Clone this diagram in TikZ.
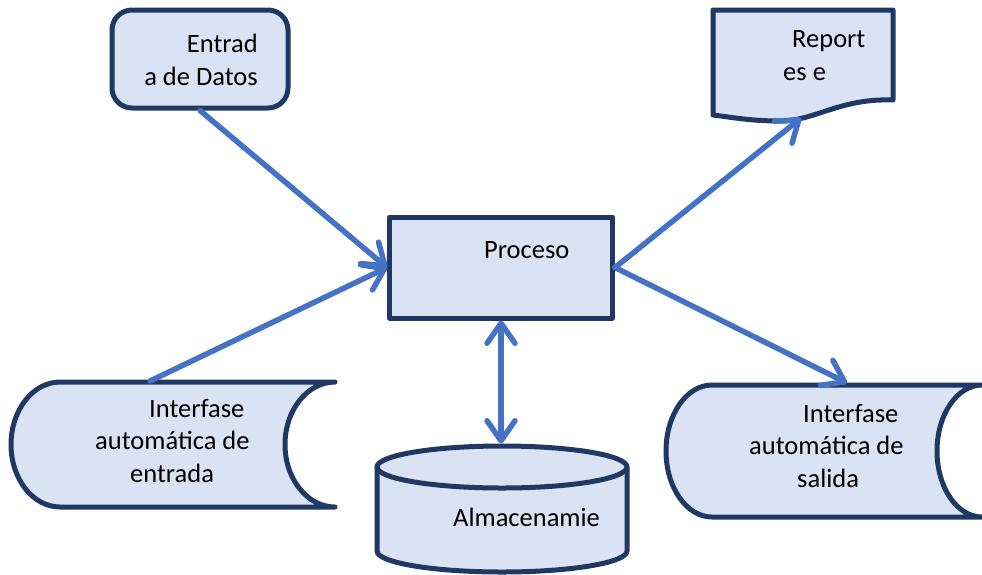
\documentclass[tikz,border=0pt]{standalone}
\usepackage{fontspec}
\setmainfont{Carlito}
\usetikzlibrary{arrows.meta}
\definecolor{boxfill}{HTML}{DAE3F3}
\definecolor{boxline}{HTML}{203864}
\definecolor{flowblue}{HTML}{4472C4}
\begin{document}
\begin{tikzpicture}[x=1pt,y=-1pt,
  shapeline/.style={draw=boxline, fill=boxfill, line width=5pt, line join=round},
  txt/.style={font=\fontsize{26.5}{32.5}\selectfont, inner sep=0pt, anchor=base west, align=left, text=black},
  >={Straight Barb[length=20pt,width=28pt,line cap=round,line join=round]},
  flowarrow/.style={draw=flowblue, line width=5.5pt, line cap=round, ->},
]
\useasboundingbox (0,0) rectangle (982,574);

% --- shapes ---
% data entry (rounded box)
\node[shapeline, rounded corners=20pt, minimum width=176pt, minimum height=98pt, inner sep=0pt] (entrada) at (200,59) {};

% process
\node[shapeline, minimum width=223pt, minimum height=101pt, inner sep=0pt] (proceso) at (501,267.5) {};

% report (document shape with wavy bottom)
\draw[shapeline] (713,10) -- (893,10) -- (893,100)
  .. controls (840,98) and (815,121) .. (780,121)
  .. controls (750,121) and (730,117) .. (713,115) -- cycle;
\coordinate (reporte) at (801,118);

% automatic input interface (stored data shape)
\draw[shapeline] (60,382) -- (335,382)
  arc[start angle=270, end angle=90, x radius=50, y radius=62.5]
  -- (60,507)
  arc[start angle=90, end angle=270, x radius=49, y radius=62.5] -- cycle;
\coordinate (entradaauto) at (150,381);

% automatic output interface (stored data shape)
\draw[shapeline] (712,385) -- (982,385)
  arc[start angle=270, end angle=90, x radius=45, y radius=66]
  -- (712,517)
  arc[start angle=90, end angle=270, x radius=46, y radius=66] -- cycle;
\coordinate (salidaauto) at (847,383);

% storage (cylinder)
\draw[shapeline] (377,467) -- (377,551)
  arc[start angle=180, end angle=0, x radius=125, y radius=21] -- (627,467);
\draw[shapeline] (502,467) ellipse[x radius=125, y radius=21];
\coordinate (almacen) at (501,443.5);

% --- connectors ---
\draw[flowarrow] (entrada.south) -- (proceso.west);
\draw[flowarrow] (entradaauto) -- (proceso.west);
\draw[flowarrow] (proceso.east) -- (reporte);
\draw[flowarrow] (proceso.east) -- (salidaauto);
\draw[flowarrow, <->] (proceso.south) -- (almacen);

% --- texts (anchored on the baseline of the last line) ---
\node[txt, anchor=base east, align=right] (entradatxt) at (258,85) {Entrad\\a de Datos};
\node[txt] (procesotxt) at (484,258) {Proceso};
\node[txt] (reportetxt) at (783,80) {\hspace*{9pt}Report\\es e};
\node[txt] (entradaautotxt) at (95,482) {\hspace*{54pt}Interfase\\automática de\\\hspace*{35pt}entrada};
\node[txt] (salidaautotxt) at (749,487) {\hspace*{54pt}Interfase\\automática de\\\hspace*{48pt}salida};
\node[txt] (almacentxt) at (453,526) {Almacenamie};
\end{tikzpicture}
\end{document}
